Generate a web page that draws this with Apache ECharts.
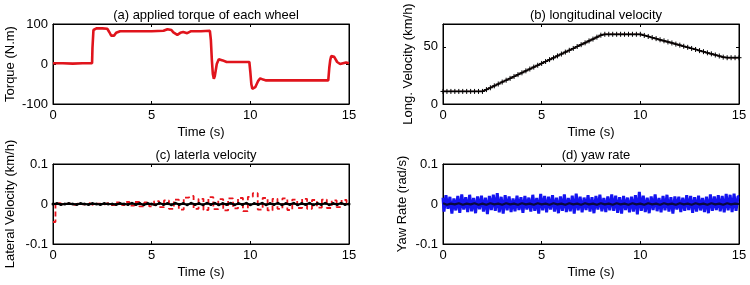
<!DOCTYPE html>
<html>
<head>
<meta charset="utf-8">
<script src="https://cdn.jsdelivr.net/npm/echarts@6/dist/echarts.min.js"></script>
<style>
html,body{margin:0;padding:0;background:#fff;}
#c{width:750px;height:285px;}
</style>
</head>
<body>
<div id="c"></div>
<script>
// ---------- data ----------
const panelTitles = ['(a) applied torque of each wheel', '(b) longitudinal velocity', '(c) laterla velocity', '(d) yaw rate'];
const yNames = ['Torque (N.m)', 'Long. Velocity (km/h)', 'Lateral Velocity (km/h)', 'Yaw Rate (rad/s)'];
const xName = 'Time (s)';

// (a) torque: breakpoints (time, N.m)
const torqueT = [0, 0.5, 1.0, 1.5, 1.98, 2.0, 2.05, 2.1, 2.2, 2.5, 2.75, 2.85, 2.95, 3.0, 3.1, 3.2, 3.4, 4, 5, 5.6, 5.8, 5.9, 6.0, 6.1, 6.2, 6.3, 6.45, 6.6, 6.8, 7, 7.5, 7.95, 8.0, 8.05, 8.1, 8.15, 8.2, 8.3, 8.4, 8.5, 8.6, 8.8, 9, 9.5, 9.95, 10.0, 10.05, 10.1, 10.15, 10.25, 10.4, 10.5, 10.65, 10.8, 11, 12, 13, 13.95, 14.0, 14.05, 14.1, 14.15, 14.25, 14.4, 14.55, 14.7, 14.85, 15];
const torqueV = [2, 2, 1, 2, 2, 40, 85, 89, 89, 89, 88, 80, 71, 68, 71, 78, 82, 82, 82, 83, 87, 88, 85, 79, 74, 73, 78, 80, 77, 82, 82, 83, 60, 10, -25, -37, -30, 0, 12, 14, 9, 5, 5, 5, 5, -20, -50, -62, -65, -58, -42, -36, -39, -41, -41, -41, -41, -41, -10, 10, 20, 24, 18, 5, 0, 2, 4, 2];

// sample times (0.2 s, 0.25 s and 0.1 s grids)
const tSample = Array.from({length: 76}, (_, i) => +(i * 0.2).toFixed(1));
const tQuarter = Array.from({length: 61}, (_, i) => i * 0.25);
const tNoise = Array.from({length: 151}, (_, i) => +(i * 0.1).toFixed(1));

// (b) longitudinal velocity (km/h) at tSample
const longV = [
  11, 11, 11, 11, 11, 11, 11, 11, 11, 11, 11,
  12.6, 14.2, 15.9, 17.5, 19.2, 20.8, 22.4, 24.1, 25.7, 27.3,
  29.0, 30.6, 32.3, 33.9, 35.5, 37.2, 38.8, 40.4, 42.1, 43.7,
  45.4, 47.0, 48.6, 50.3, 51.9, 53.5, 55.2, 56.8, 58.5, 60.2, 61,
  61, 61, 61, 61, 61, 61, 61, 61, 61,
  60.0, 59.1, 58.1, 57.2, 56.2, 55.3, 54.3, 53.4, 52.4, 51.5,
  50.5, 49.6, 48.6, 47.7, 46.7, 45.8, 44.8, 43.9, 42.9, 42.0, 41.0,
  40.5, 40.5, 40.5, 40.5
];

// (c) lateral velocity (km/h): estimate (black, tSample) and measurement (red dashed, tQuarter)
const latBlack = [
  0, 0.001, -0.001, 0, 0.001, 0, -0.001, 0.001, 0, -0.001,
  0.001, 0, -0.001, 0.001, 0, 0, -0.001, 0.001, 0, -0.001,
  0.002, -0.001, 0.001, -0.002, 0.001, 0, -0.002, 0.002, -0.001, 0.001,
  -0.002, 0.002, -0.001, 0.001, -0.002, 0.002, -0.001, 0.001, -0.002, 0.002,
  -0.001, 0.002, -0.002, 0.001, -0.001, 0.002, -0.002, 0.001, -0.001, 0.002,
  -0.002, 0.001, -0.001, 0.002, -0.002, 0.001, -0.001, 0.002, -0.002, 0.001,
  -0.001, 0.002, -0.002, 0.001, -0.001, 0.002, -0.002, 0.001, -0.001, 0.002,
  -0.002, 0.001, -0.001, 0.002, -0.001, 0
];
const latRed = [
  -0.045, 0.002, -0.001, 0.001, -0.002, 0.001, -0.001, 0.002, -0.002, 0.001, -0.001, 0.002,
  -0.003, 0.004, -0.003, 0.005, -0.004, 0.005, -0.006, 0.004, -0.006, 0.007, -0.008, 0.009,
  -0.012, 0.011, -0.014, 0.016, 0.020, -0.012, 0.013, -0.015, 0.017, -0.013, 0.012, -0.016,
  0.014, -0.011, 0.015, -0.018, 0.018, 0.027, -0.014, 0.015, -0.016, 0.013, -0.012, 0.014,
  -0.015, 0.011, -0.010, 0.013, -0.012, 0.010, -0.009, 0.011, -0.010, 0.009, -0.008, 0.010,
  0.004
];

// (d) yaw rate (rad/s): measurement (blue, tNoise), estimate (black, tSample)
const yawBlue = [
  0.016, -0.019, 0.022, -0.012, 0.018, -0.024, 0.014, -0.016, 0.020, -0.022,
  0.024, -0.014, 0.017, -0.020, 0.023, -0.018, 0.015, -0.023, 0.019, -0.013,
  0.021, -0.019, 0.016, -0.025, 0.020, -0.015, 0.023, -0.017, 0.027, -0.021,
  0.018, -0.024, 0.022, -0.016, 0.019, -0.020, 0.014, -0.018, 0.021, -0.015,
  0.017, -0.022, 0.020, -0.014, 0.016, -0.019, 0.023, -0.017, 0.015, -0.024,
  0.025, -0.016, 0.020, -0.021, 0.018, -0.014, 0.022, -0.019, 0.016, -0.023,
  0.019, -0.017, 0.024, -0.020, 0.015, -0.018, 0.021, -0.024, 0.026, -0.016,
  0.018, -0.021, 0.016, -0.015, 0.022, -0.019, 0.017, -0.023, 0.020, -0.014,
  0.023, -0.018, 0.015, -0.020, 0.019, -0.016, 0.024, -0.017, 0.021, -0.022,
  0.017, -0.024, 0.020, -0.015, 0.016, -0.021, 0.018, -0.019, 0.022, -0.026,
  0.030, -0.017, 0.021, -0.020, 0.016, -0.023, 0.019, -0.015, 0.024, -0.018,
  0.015, -0.021, 0.020, -0.016, 0.023, -0.019, 0.017, -0.024, 0.019, -0.014,
  0.018, -0.020, 0.016, -0.017, 0.022, -0.015, 0.020, -0.022, 0.017, -0.019,
  0.021, -0.016, 0.015, -0.020, 0.018, -0.023, 0.024, -0.017, 0.019, -0.015,
  0.022, -0.018, 0.020, -0.021, 0.025, -0.016, 0.023, -0.020, 0.026, -0.017,
  0.019
];
const yawBlack = [
  0.002, -0.002, 0.001, -0.001, 0.002, -0.002, 0.001, -0.001, 0.002, -0.002,
  0.001, -0.002, 0.002, -0.001, 0.001, -0.002, 0.002, -0.001, 0.001, -0.002,
  0.002, -0.001, 0.001, -0.002, 0.002, -0.001, 0.001, -0.002, 0.002, -0.001,
  0.001, -0.002, 0.002, -0.001, 0.001, -0.002, 0.002, -0.001, 0.001, -0.002,
  0.002, -0.001, 0.001, -0.002, 0.002, -0.001, 0.001, -0.002, 0.002, -0.001,
  0.001, -0.002, 0.002, -0.001, 0.001, -0.002, 0.002, -0.001, 0.001, -0.002,
  0.002, -0.001, 0.001, -0.002, 0.002, -0.001, 0.001, -0.002, 0.002, -0.001,
  0.001, -0.002, 0.002, -0.001, 0.001, 0
];

// ---------- chart ----------
const FONT = 'Arial, "Liberation Sans", sans-serif';
const zip = (t, v) => t.map((x, i) => [x, v[i]]);

const grids = [
  {left: 53, top: 24, width: 296, height: 80},
  {left: 443, top: 24, width: 296, height: 80},
  {left: 53, top: 164, width: 296, height: 80},
  {left: 443, top: 164, width: 296, height: 80}
];
const yRanges = [
  {min: -100, max: 100, interval: 100},
  {min: 0, max: 70, interval: 50},
  {min: -0.1, max: 0.1, interval: 0.1},
  {min: -0.1, max: 0.1, interval: 0.1}
];
const yGaps = [36, 28, 36, 34];

const xAxes = [], yAxes = [], titles = [];
const tickStyle = {show: true, inside: true, length: 3, lineStyle: {color: '#000'}};
const lineStyleAx = {show: true, onZero: false, lineStyle: {color: '#000', width: 1}};
grids.forEach((g, i) => {
  xAxes.push({
    type: 'value', gridIndex: i, min: 0, max: 15, interval: 5, position: 'bottom',
    name: xName, nameLocation: 'middle', nameGap: 22,
    nameTextStyle: {fontFamily: FONT, fontSize: 13, color: '#000'},
    axisLine: lineStyleAx, axisTick: tickStyle,
    axisLabel: {fontFamily: FONT, fontSize: 13, color: '#000', margin: 5},
    splitLine: {show: false}
  });
  xAxes.push({
    type: 'value', gridIndex: i, min: 0, max: 15, interval: 5, position: 'top',
    axisLine: lineStyleAx, axisTick: tickStyle,
    axisLabel: {show: false}, splitLine: {show: false}
  });
  const r = yRanges[i];
  yAxes.push({
    type: 'value', gridIndex: i, min: r.min, max: r.max, interval: r.interval, position: 'left',
    name: yNames[i], nameLocation: 'middle', nameGap: yGaps[i],
    nameTextStyle: {fontFamily: FONT, fontSize: 13, color: '#000'},
    axisLine: lineStyleAx, axisTick: tickStyle,
    axisLabel: {fontFamily: FONT, fontSize: 13, color: '#000', margin: 5, showMaxLabel: i !== 1},
    splitLine: {show: false}
  });
  yAxes.push({
    type: 'value', gridIndex: i, min: r.min, max: r.max, interval: r.interval, position: 'right',
    axisLine: lineStyleAx, axisTick: tickStyle,
    axisLabel: {show: false}, splitLine: {show: false}
  });
  titles.push({
    text: panelTitles[i], left: g.left + g.width / 2, top: g.top - 20, textAlign: 'center',
    textStyle: {fontFamily: FONT, fontSize: 13, fontWeight: 'normal', color: '#000'}
  });
});

const plus = 'path://M5,0L5,10M0,5L10,5';
const series = [
  {type: 'line', xAxisIndex: 0, yAxisIndex: 0, data: zip(torqueT, torqueV), showSymbol: false,
   lineStyle: {color: '#e0141c', width: 2.6}},
  {type: 'line', xAxisIndex: 2, yAxisIndex: 2, data: zip(tSample, longV), showSymbol: false,
   lineStyle: {color: '#e0141c', width: 1, type: 'dashed'}},
  {type: 'line', xAxisIndex: 2, yAxisIndex: 2, data: zip(tSample, longV), symbol: plus, symbolSize: 5,
   itemStyle: {color: '#000', borderColor: '#000', borderWidth: 1},
   lineStyle: {color: '#1a0a0a', width: 1.8}},
  {type: 'line', xAxisIndex: 4, yAxisIndex: 4, data: zip(tQuarter, latRed), showSymbol: false, step: 'middle',
   lineStyle: {color: '#e8141c', width: 1.8, type: [5, 3]}},
  {type: 'line', xAxisIndex: 4, yAxisIndex: 4, data: zip(tSample, latBlack), symbol: 'circle', symbolSize: 3,
   itemStyle: {color: '#000'}, lineStyle: {color: '#000', width: 2.2}},
  {type: 'line', xAxisIndex: 6, yAxisIndex: 6, data: zip(tNoise, yawBlue), showSymbol: false, step: 'middle',
   lineStyle: {color: '#1414f0', width: 3}},
  {type: 'line', xAxisIndex: 6, yAxisIndex: 6, data: zip(tSample, yawBlack), showSymbol: false,
   lineStyle: {color: '#0a0a40', width: 2.2}}
];

const chart = echarts.init(document.getElementById('c'), null, {renderer: 'canvas'});
chart.setOption({
  animation: false,
  backgroundColor: '#fff',
  title: titles,
  grid: grids.map(g => Object.assign({show: true, borderColor: '#000', borderWidth: 1, backgroundColor: '#fff'}, g)),
  xAxis: xAxes,
  yAxis: yAxes,
  series: series
});
</script>
</body>
</html>
